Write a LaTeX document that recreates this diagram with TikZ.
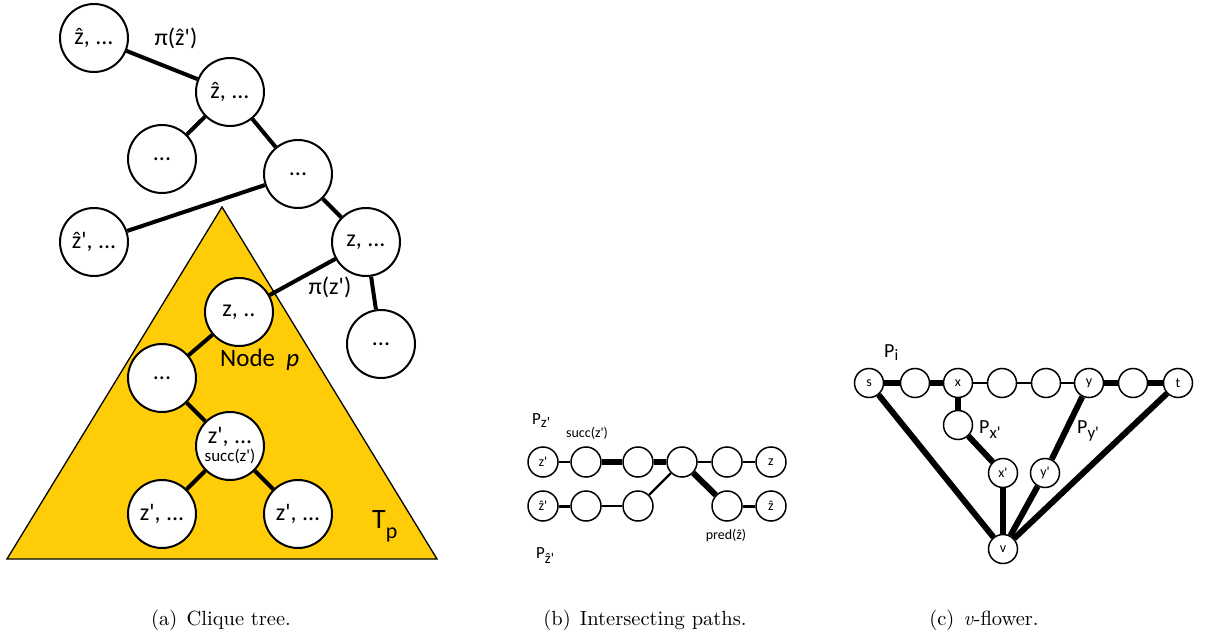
\documentclass[tikz,border=0pt]{standalone}
\usepackage{fontspec}
\newfontfamily\calfont[Ligatures=TeXOff]{Carlito}
\newfontfamily\capfont{lmroman10-regular}[Extension=.otf,ItalicFont=lmroman10-italic]
\definecolor{tyellow}{RGB}{255,204,8}
\newcommand{\fs}[1]{\fontsize{#1}{#1}\selectfont}
\begin{document}
\begin{tikzpicture}[x=1pt,y=-1pt,
  big/.style={circle,draw,line width=2pt,fill=white,minimum size=68pt,inner sep=0pt,font=\calfont\fs{24}},
  sm/.style={circle,draw,line width=1.5pt,fill=white,minimum size=30pt,inner sep=0pt,font=\calfont\fs{14}},
  fl/.style={circle,draw,line width=1.5pt,fill=white,minimum size=29pt,inner sep=0pt,font=\calfont\fs{14}},
  ea/.style={line width=4pt},
  thk/.style={line width=6pt},
  thn/.style={line width=2.5pt},
  lab/.style={inner sep=0pt,font=\calfont},
  captext/.style={inner sep=0pt,font=\capfont\fs{20.5}}]
\useasboundingbox (0,0) rectangle (1205,639);
% ---------- (a) clique tree ----------
\coordinate (ta) at (222,207);
\coordinate (tl) at (7,559);
\coordinate (tr) at (437,559);
\fill[tyellow] (ta) -- (tl) -- (tr) -- cycle;
\draw[line width=1.3pt,line join=miter] (ta) -- (tl) -- (tr) -- cycle;
\node[big] (a1) at (94,38) {ẑ, ...};
\node[big] (a2) at (230,92) {ẑ, ...};
\node[big] (a3) at (162,159) {...};
\node[big] (a4) at (298,174) {...};
\node[big] (a5) at (94,242) {ẑ', ...};
\node[big] (a6) at (366,242) {z, ...};
\node[big] (a7) at (239,312) {z, ..};
\node[big] (a8) at (381,344) {...};
\node[big] (a9) at (162,378) {...};
\node[big,align=center] (a10) at (230,446) {z', ...\\[-6pt]{\fs{17}succ(z')}};
\node[big] (a11) at (162,514) {z', ...};
\node[big] (a12) at (298,514) {z', ...};
\draw[ea] (a1) -- (a2);
\draw[ea] (a2) -- (a3);
\draw[ea] (a2) -- (a4);
\draw[ea] (a4) -- (a5);
\draw[ea] (a4) -- (a6);
\draw[ea] (a6) -- (a7);
\draw[ea] (a6) -- (a8);
\draw[ea] (a7) -- (a9);
\draw[ea] (a9) -- (a10);
\draw[ea] (a10) -- (a11);
\draw[ea] (a10) -- (a12);
\node[lab,font=\calfont\fs{24}] (pz1) at (176,38) {π(ẑ')};
\node[lab,font=\calfont\fs{24}] (pz2) at (330,287) {π(z')};
\node[lab,font=\calfont\fs{25},anchor=west] (np) at (220,360) {Node\hspace{0.45em}\textit{p}};
\node[lab,font=\calfont\fs{28},anchor=base west] (tp) at (372,528) {T\raisebox{-10pt}{\fs{22}p}};
% ---------- (b) intersecting paths ----------
\node[sm] (b1) at (543,462) {z'};
\node[sm] (b2) at (586,462) {};
\node[sm] (b3) at (638,462) {};
\node[sm] (b4) at (682,462) {};
\node[sm] (b5) at (727,462) {};
\node[sm] (b6) at (771,462) {z};
\node[sm] (c1) at (543,506) {ẑ'};
\node[sm] (c2) at (586,506) {};
\node[sm] (c3) at (638,506) {};
\node[sm] (c5) at (727,506) {};
\node[sm] (c6) at (771,506) {ẑ};
\draw[line width=2.7pt] (b1) -- (b2);
\draw[line width=6.5pt] (b2) -- (b3);
\draw[line width=5.5pt] (b3) -- (b4);
\draw[line width=2.5pt] (b4) -- (b5);
\draw[line width=2.5pt] (b5) -- (b6);
\draw[line width=3pt] (c1) -- (c2);
\draw[line width=2.5pt] (c2) -- (c3);
\draw[line width=2.3pt] (c3) -- (b4);
\draw[line width=6pt] (b4) -- (c5);
\draw[line width=3pt] (c5) -- (c6);
\node[lab,font=\calfont\fs{17},anchor=base west] (pzp) at (532,424) {P\raisebox{-3pt}{\fs{15}z'}};
\node[lab,font=\calfont\fs{14}] (sc) at (587,433) {succ(z')};
\node[lab,font=\calfont\fs{14}] (pr) at (726,536) {pred(ẑ)};
\node[lab,font=\calfont\fs{17},anchor=base west] (pzh) at (536,558) {P\raisebox{-5pt}{\fs{15}ẑ'}};
% ---------- (c) v-flower ----------
\node[fl] (s) at (869,383) {s};
\node[fl] (d2) at (915,383) {};
\node[fl] (x) at (958,383) {x};
\node[fl] (d4) at (1002,383) {};
\node[fl] (d5) at (1046,383) {};
\node[fl] (y) at (1089,383) {y};
\node[fl] (d7) at (1133,383) {};
\node[fl] (t) at (1178,383) {t};
\node[fl] (xb) at (958,425) {};
\node[fl] (xp) at (1003,473) {x'};
\node[fl] (yp) at (1045,473) {y'};
\node[fl] (v) at (1003,549) {v};
\draw[thk] (s) -- (d2);
\draw[thk] (d2) -- (x);
\draw[thn] (x) -- (d4);
\draw[thn] (d4) -- (d5);
\draw[thn] (d5) -- (y);
\draw[thk] (y) -- (d7);
\draw[thk] (d7) -- (t);
\draw[thk] (x) -- (xb);
\draw[thk] (xb) -- (xp);
\draw[thk] (xp) -- (v);
\draw[thk] (y) -- (yp);
\draw[thk] (yp) -- (v);
\draw[thk] (s) -- (v);
\draw[thk] (t) -- (v);
\node[lab,font=\calfont\fs{20},anchor=base west] (pi) at (884,357) {P\raisebox{-3pt}{\fs{16}i}};
\node[lab,font=\calfont\fs{20},anchor=base west] (px) at (979,433) {P\raisebox{-5pt}{\fs{17}x'}};
\node[lab,font=\calfont\fs{20},anchor=base west] (py) at (1077,433) {P\raisebox{-5pt}{\fs{17}y'}};
% ---------- captions ----------
\node[captext] (capa) at (221,620) {(a)\hspace{0.45em}Clique tree.};
\node[captext] (capb) at (645,620) {(b)\hspace{0.45em}Intersecting paths.};
\node[captext] (capc) at (984,620) {(c)\hspace{0.45em}\textit{v}-flower.};
\end{tikzpicture}
\end{document}
